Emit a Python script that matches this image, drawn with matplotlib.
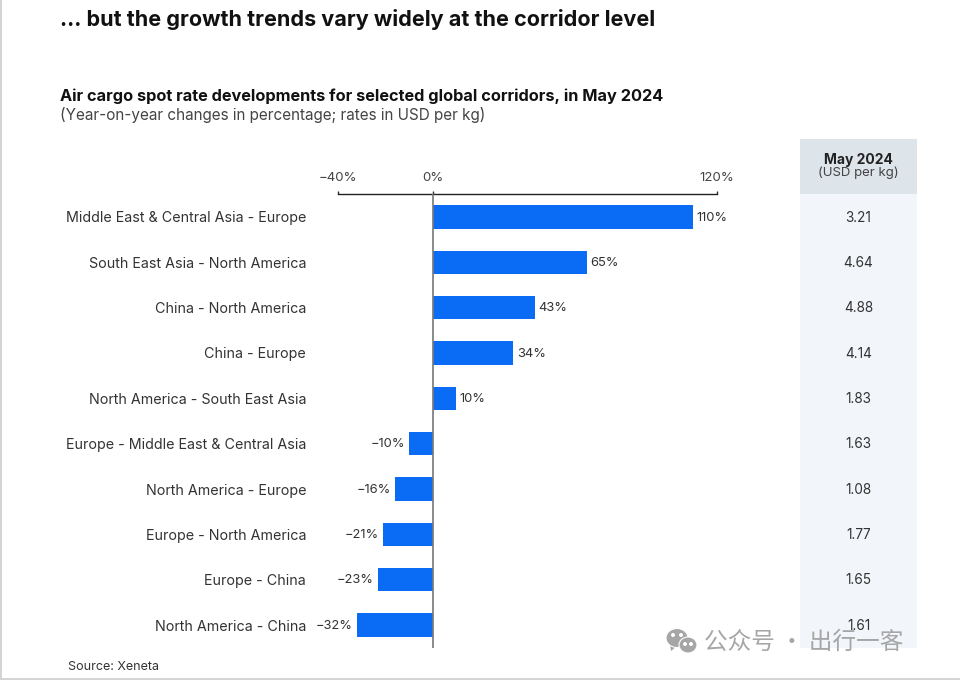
import matplotlib
matplotlib.use('Agg')
import matplotlib.pyplot as plt
from matplotlib.patches import Rectangle, Ellipse, Polygon

corridors = ['Middle East & Central Asia - Europe', 'South East Asia - North America',
             'China - North America', 'China - Europe', 'North America - South East Asia',
             'Europe - Middle East & Central Asia', 'North America - Europe',
             'Europe - North America', 'Europe - China', 'North America - China']
changes = [110, 65, 43, 34, 10, -10, -16, -21, -23, -32]
rates = ['3.21', '4.64', '4.88', '4.14', '1.83', '1.63', '1.08', '1.77', '1.65', '1.61']
x_ticks = [-40, 0, 120]

W, H = 960, 680
plt.rcParams['font.family'] = ['Inter', 'DejaVu Sans']

fig = plt.figure(figsize=(W / 100, H / 100), dpi=100)

def fx(px):
    return px / W

def fy(py):
    return 1 - py / H

def rect(x0, y0, x1, y1, color):
    fig.add_artist(Rectangle((fx(x0), fy(y1)), fx(x1) - fx(x0), fy(y0) - fy(y1),
                             transform=fig.transFigure, color=color, lw=0, zorder=0))

# screenshot edge and the rate column
rect(0, 0, 1.5, H, '#d4d4d4')
rect(0, 678, W, H, '#d4d4d4')
rect(800, 139, 917, 194, '#dde4ea')
rect(800, 194, 917, 648, '#f2f5fa')

ax = fig.add_axes([fx(338), fy(648), fx(717) - fx(338), fy(194) - fy(648)])
ax.patch.set_alpha(0)
ypos = list(range(len(corridors)))
ax.barh(ypos, changes, height=0.52, color='#0a6cf5')
ax.set_xlim(-40, 120)
ax.set_ylim(9.507, -0.507)

# percentage labels next to the bars
for y, v in zip(ypos, changes):
    if v >= 0:
        ax.annotate(f'{v}%', (v, y), xytext=(2.5, -0.5), textcoords='offset points',
                    ha='left', va='center', fontsize=9.3, color='#333333')
    else:
        ax.annotate(f'\u2212{-v}%', (v, y), xytext=(-3, -0.5), textcoords='offset points',
                    ha='right', va='center', fontsize=9.3, color='#333333')

ax.xaxis.tick_top()
ax.set_xticks(x_ticks)
ax.set_xticklabels(['\u221240%', '0%', '120%'], fontsize=9.5, color='#444444')
ax.tick_params(axis='x', length=2, width=1, pad=5, color='#333333')
ax.set_yticks(ypos)
ax.set_yticklabels(corridors, fontsize=10.3, color='#333333')
ax.tick_params(axis='y', length=0, pad=23)

for side in ['left', 'right', 'bottom']:
    ax.spines[side].set_visible(False)
ax.spines['top'].set_color('#222222')
ax.spines['top'].set_linewidth(1)
ax.axvline(0, color='#777777', lw=1.2, zorder=3)

# rates column, lined up with the bars
trans = ax.get_yaxis_transform()
for y, r in zip(ypos, rates):
    ax.annotate(r, ((fx(858.5) - fx(338)) / (fx(717) - fx(338)), y), xycoords=trans,
                xytext=(0, -0.5), textcoords='offset points',
                ha='center', va='center', fontsize=9.8, color='#333333', annotation_clip=False)

fig.text(fx(858.5), fy(160), 'May 2024', ha='center', va='center', fontsize=10,
         fontweight='bold', color='#222222')
fig.text(fx(858.5), fy(172.5), '(USD per kg)', ha='center', va='center', fontsize=9.5,
         color='#444444')

fig.text(fx(60), fy(20), '... but the growth trends vary widely at the corridor level',
         ha='left', va='center', fontsize=15.55, fontweight='bold', color='#111111')
fig.text(fx(60), fy(96), 'Air cargo spot rate developments for selected global corridors, in May 2024',
         ha='left', va='center', fontsize=11.75, fontweight='bold', color='#111111')
fig.text(fx(60), fy(115), '(Year-on-year changes in percentage; rates in USD per kg)',
         ha='left', va='center', fontsize=11, color='#444444')
fig.text(fx(68), fy(667), 'Source: Xeneta', ha='left', va='center', fontsize=9, color='#333333')

# watermark
def bubble(cx, cy, rx, ry, color='#a6a6a6'):
    fig.add_artist(Ellipse((fx(cx), fy(cy)), 2 * rx / W, 2 * ry / H, transform=fig.transFigure,
                           facecolor=color, edgecolor='white', lw=0.8, zorder=5))

fig.add_artist(Polygon([(fx(670), fy(644)), (fx(671), fy(651)), (fx(677), fy(646))],
                       transform=fig.transFigure, color='#a6a6a6', lw=0, zorder=5))
bubble(677, 638, 11, 9.5)
bubble(688, 645, 9, 8)
for cx, cy in [(673, 635), (681, 635), (685, 644), (691, 644)]:
    bubble(cx, cy, 1.4, 1.4, 'white')
fig.text(fx(704), fy(642), '\u516c\u4f17\u53f7 \u00b7 \u51fa\u884c\u4e00\u5ba2', ha='left', va='center',
         fontsize=17, color='#a6a6a6', family=['Noto Sans CJK SC', 'DejaVu Sans'], zorder=6)

fig.savefig('out.png', dpi=100)
